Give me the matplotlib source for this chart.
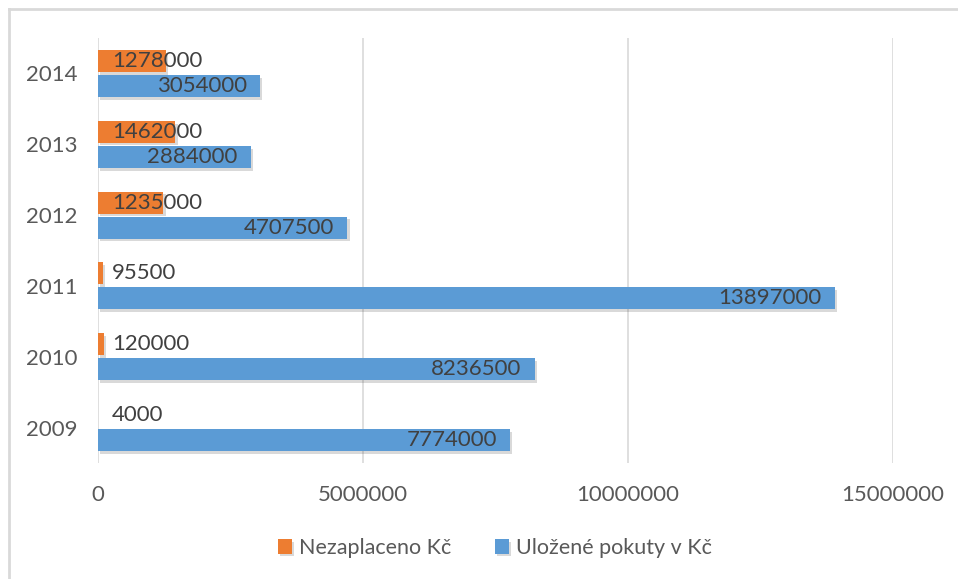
import matplotlib.pyplot as plt
import matplotlib.patheffects as pe
from matplotlib.lines import Line2D
import numpy as np

# data
years = ["2009", "2010", "2011", "2012", "2013", "2014"]
ulozene = [7774000, 8236500, 13897000, 4707500, 2884000, 3054000]
nezaplaceno = [4000, 120000, 95500, 1235000, 1462000, 1278000]
xticks = [0, 5000000, 10000000, 15000000]

orange = "#ED7D31"
blue = "#5B9BD5"
txt = "#595959"
lbl = "#404040"

plt.rcParams['font.family'] = ['Lato', 'DejaVu Sans']

fig = plt.figure(figsize=(9.58, 5.79), dpi=100)
ax = fig.add_axes([98/958, 1-463/579, (893-98)/958, (463-38)/579])

y = np.arange(len(years))
h = 0.31
off = 0.177
shadow = [pe.SimplePatchShadow(offset=(1.5, -2), alpha=0.18, shadow_rgbFace="#303030"), pe.Normal()]

b_blue = ax.barh(y - off, ulozene, height=h, color=blue, label="Uložené pokuty v Kč", zorder=3)
b_or = ax.barh(y + off, nezaplaceno, height=h, color=orange, label="Nezaplaceno Kč", zorder=3)
for b in list(b_blue) + list(b_or):
    b.set_path_effects(shadow)

# value labels
for yi, v in zip(y, ulozene):
    ax.annotate(str(v), (v, yi - off), xytext=(-9.5, 0), textcoords="offset points",
                ha="right", va="center", fontsize=16, color=lbl, zorder=5)
for yi, v in zip(y, nezaplaceno):
    ax.annotate(str(v), (0, yi + off), xytext=(10, 0), textcoords="offset points",
                ha="left", va="center", fontsize=16, color=lbl, zorder=5)

ax.set_xlim(0, 15000000)
ax.set_ylim(-0.5, len(years) - 0.5)
ax.set_yticks(y)
ax.set_yticklabels(years)
ax.set_xticks(xticks)
ax.set_xticklabels([str(t) for t in xticks])
ax.tick_params(axis="both", length=0, labelsize=16, colors=txt)
ax.tick_params(axis="x", pad=16)
ax.tick_params(axis="y", pad=15)
ax.grid(axis="x", color="#D9D9D9", linewidth=1.2, zorder=0)
for s in ax.spines.values():
    s.set_visible(False)

handles, labels = ax.get_legend_handles_labels()
leg = fig.legend(handles[::-1], labels[::-1], loc="center", bbox_to_anchor=(495/958, 1-548/579),
                 ncol=2, frameon=False, fontsize=15.5, handlelength=0.65, handleheight=0.65,
                 handletextpad=0.35, columnspacing=2.0)
for t in leg.get_texts():
    t.set_color(txt)

# chart border
fig.add_artist(Line2D([9/958, 9/958], [0, 1-9/579], color="#D9D9D9", linewidth=2, transform=fig.transFigure))
fig.add_artist(Line2D([9/958, 1], [1-9/579, 1-9/579], color="#D9D9D9", linewidth=2, transform=fig.transFigure))

fig.savefig("out.png", dpi=100)
